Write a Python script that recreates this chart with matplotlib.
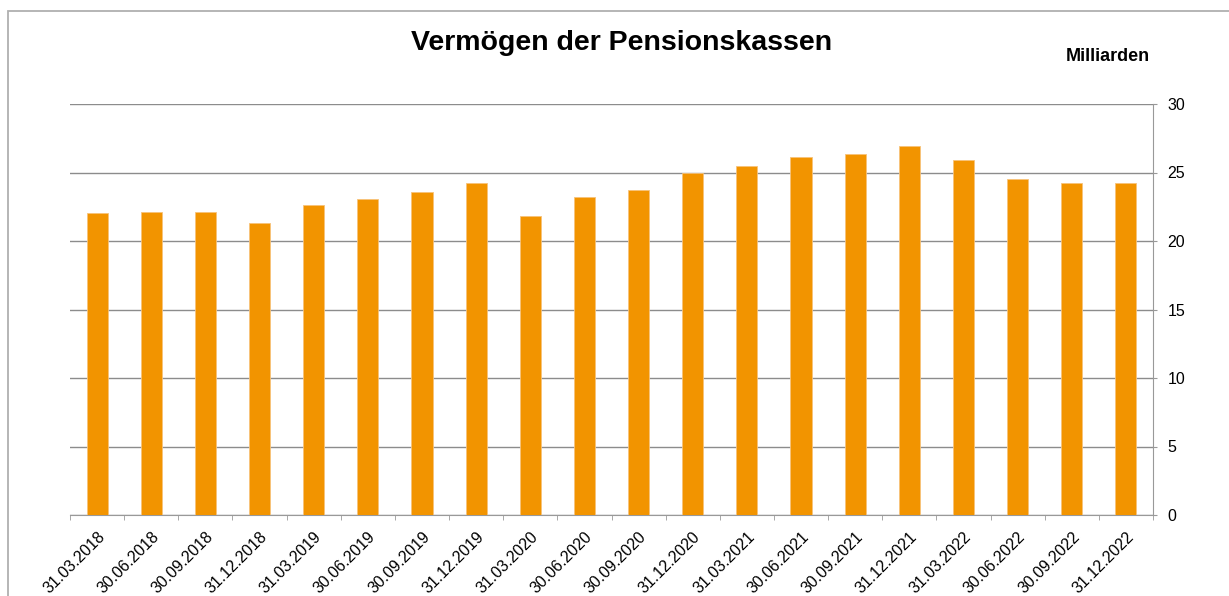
import matplotlib
matplotlib.use("Agg")
import matplotlib.pyplot as plt
from matplotlib.patches import Rectangle
import numpy as np

plt.rcParams['font.family'] = ['Liberation Sans', 'DejaVu Sans']

dates = ["31.03.2018", "30.06.2018", "30.09.2018", "31.12.2018",
         "31.03.2019", "30.06.2019", "30.09.2019", "31.12.2019",
         "31.03.2020", "30.06.2020", "30.09.2020", "31.12.2020",
         "31.03.2021", "30.06.2021", "30.09.2021", "31.12.2021",
         "31.03.2022", "30.06.2022", "30.09.2022", "31.12.2022"]
values = [22.05, 22.15, 22.15, 21.3, 22.6, 23.05, 23.6, 24.25, 21.85, 23.2,
          23.7, 24.95, 25.45, 26.15, 26.35, 26.9, 25.9, 24.55, 24.25, 24.25]
yticks = [0, 5, 10, 15, 20, 25, 30]

W, H = 1229, 596
fig = plt.figure(figsize=(W / 100, H / 100), dpi=100)
ax = fig.add_axes([70 / W, 1 - 515 / H, (1153 - 70) / W, (515 - 104) / H])

x = np.arange(len(dates))
ax.bar(x, values, width=0.39, color='#F29400', edgecolor='#F7C27A',
       linewidth=0.6, zorder=3)

ax.set_xlim(-0.5, len(dates) - 0.5)
ax.set_ylim(0, 30)

ax.yaxis.tick_right()
ax.set_yticks(yticks)
ax.set_yticklabels([str(v) for v in yticks], fontsize=11.5)
ax.tick_params(axis='y', length=3, color='#999999', pad=7.5)
ax.grid(axis='y', color='#8c8c8c', linewidth=1.0, zorder=0)

ax.set_xticks(x)
ax.set_xticklabels(dates, rotation=45, ha='right', va='top',
                   rotation_mode='anchor', fontsize=11.5)
ax.tick_params(axis='x', which='major', length=0, pad=10)
ax.set_xticks(np.arange(-0.5, len(dates), 1.0), minor=True)
ax.tick_params(axis='x', which='minor', length=3.5, color='#999999')

for s in ['top', 'left']:
    ax.spines[s].set_visible(False)
ax.spines['right'].set_color('#999999')
ax.spines['bottom'].set_color('#999999')

fig.text(622 / W, 1 - 49.5 / H, "Vermögen der Pensionskassen", ha='center',
         va='baseline', fontsize=20.5, fontweight='bold')
fig.text(1108 / W, 1 - 61 / H, "Milliarden", ha='center', va='baseline',
         fontsize=13, fontweight='bold')

border = Rectangle((8 / W, -0.1), 1.2, 1.1 - 11 / H, transform=fig.transFigure,
                   fill=False, edgecolor='#b0b0b0', linewidth=1.3)
fig.add_artist(border)

fig.savefig("out.png", dpi=100)
